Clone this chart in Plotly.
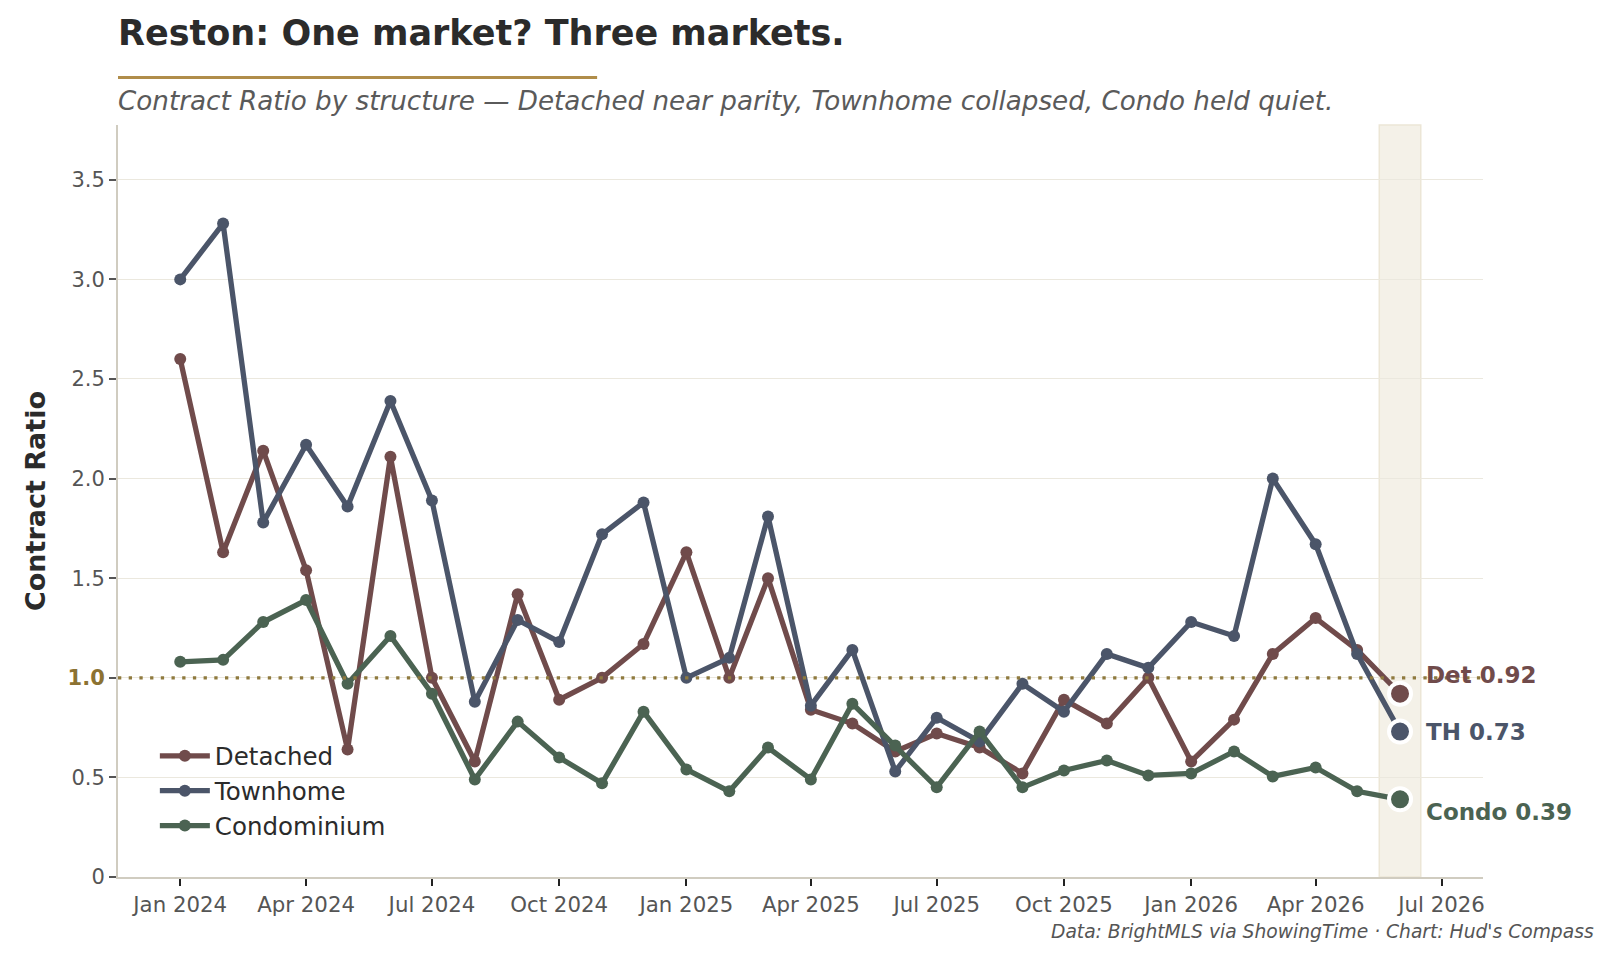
import plotly.graph_objects as go

months = ["2024-01-01","2024-02-01","2024-03-01","2024-04-01","2024-05-01","2024-06-01",
          "2024-07-01","2024-08-01","2024-09-01","2024-10-01","2024-11-01","2024-12-01",
          "2025-01-01","2025-02-01","2025-03-01","2025-04-01","2025-05-01","2025-06-01",
          "2025-07-01","2025-08-01","2025-09-01","2025-10-01","2025-11-01","2025-12-01",
          "2026-01-01","2026-02-01","2026-03-01","2026-04-01","2026-05-01","2026-06-01"]

detached = [2.60,1.63,2.14,1.54,0.64,2.11,1.00,0.58,1.42,0.89,1.00,1.17,
            1.63,1.00,1.50,0.84,0.77,0.63,0.72,0.65,0.52,0.89,0.77,1.00,
            0.58,0.79,1.12,1.30,1.14,0.92]
townhome = [3.00,3.28,1.78,2.17,1.86,2.39,1.89,0.88,1.29,1.18,1.72,1.88,
            1.00,1.10,1.81,0.86,1.14,0.53,0.80,0.68,0.97,0.83,1.12,1.05,
            1.28,1.21,2.00,1.67,1.12,0.73]
condo = [1.08,1.09,1.28,1.39,0.97,1.21,0.92,0.49,0.78,0.60,0.47,0.83,
         0.54,0.43,0.65,0.49,0.87,0.66,0.45,0.73,0.45,0.535,0.585,0.51,
         0.52,0.63,0.505,0.55,0.43,0.39]

series_names = ["Detached", "Townhome", "Condominium"]
short_names = ["Det", "TH", "Condo"]
colors = ["#704b4b", "#4b5569", "#4b6352"]
label_shift = [19, 0, -13]

xtick_vals = ["2024-01-01","2024-04-01","2024-07-01","2024-10-01","2025-01-01",
              "2025-04-01","2025-07-01","2025-10-01","2026-01-01","2026-04-01","2026-07-01"]
xtick_text = ["Jan 2024","Apr 2024","Jul 2024","Oct 2024","Jan 2025","Apr 2025",
              "Jul 2025","Oct 2025","Jan 2026","Apr 2026","Jul 2026"]
ytick_vals = [0, 0.5, 1.0, 1.5, 2.0, 2.5, 3.0, 3.5]
ytick_text = ["0", "0.5", "<b><span style='color:#8c7232'>1.0</span></b>", "1.5", "2.0", "2.5", "3.0", "3.5"]

FONT = "DejaVu Sans"
fig = go.Figure()

# highlight band for latest month
fig.add_shape(type="rect", xref="x", yref="paper", x0="2026-05-17", x1="2026-06-16",
              y0=0, y1=1, fillcolor="#f4f1e8", line=dict(color="#ece6d6", width=1.5), layer="below")
# parity line
fig.add_shape(type="line", xref="paper", yref="y", x0=0, x1=1, y0=1.0, y1=1.0,
              line=dict(color="#8f7a3e", width=3.2, dash="3.3px,7.4px"))

for name, vals, col in zip(series_names, [detached, townhome, condo], colors):
    fig.add_trace(go.Scatter(x=months, y=vals, mode="lines+markers", name=name,
                             line=dict(color=col, width=5.3),
                             marker=dict(color=col, size=12)))

for sname, vals, col, sh in zip(short_names, [detached, townhome, condo], colors, label_shift):
    fig.add_trace(go.Scatter(x=[months[-1]], y=[vals[-1]], mode="markers", showlegend=False,
                             marker=dict(color=col, size=22, line=dict(color="white", width=4)),
                             hoverinfo="skip"))
    fig.add_annotation(x=months[-1], y=vals[-1], text=f"<b>{sname} {vals[-1]:.2f}</b>",
                       showarrow=False, xanchor="left", yanchor="middle", xshift=24, yshift=sh,
                       font=dict(family=FONT, size=23, color=col))

fig.add_annotation(xref="paper", yref="paper", x=1.0, y=0, xanchor="right", yanchor="top",
                   text="<i>Data: BrightMLS via ShowingTime · Chart: Hud's Compass</i>",
                   showarrow=False, xshift=113, yshift=-42,
                   font=dict(family=FONT, size=18.7, color="#555555"))

fig.add_annotation(xref="paper", yref="paper", x=0, y=1, xanchor="left", yanchor="middle",
                   text="<b>Reston: One market? Three markets.</b>", showarrow=False,
                   xshift=-2, yshift=92, font=dict(family=FONT, size=35, color="#2b2b2b"))
fig.add_annotation(xref="paper", yref="paper", x=0, y=1, xanchor="left", yanchor="middle",
                   text="<i>Contract Ratio by structure — Detached near parity, Townhome collapsed, Condo held quiet.</i>",
                   showarrow=False, xshift=-2, yshift=24, font=dict(family=FONT, size=26.2, color="#5a5a5a"))
fig.add_shape(type="line", xref="paper", yref="paper", x0=0, x1=0.351, y0=1.063, y1=1.063,
              line=dict(color="#b08d4a", width=3))

fig.update_layout(
    width=1613, height=957,
    margin=dict(l=118, r=130, t=125, b=80),
    paper_bgcolor="white", plot_bgcolor="white",
    font=dict(family=FONT, color="#555555"),
    showlegend=True,
    legend=dict(x=0.027, y=0.038, xanchor="left", yanchor="bottom", bgcolor="rgba(0,0,0,0)",
                font=dict(family=FONT, size=24.5, color="#2b2b2b"), itemwidth=50),
    xaxis=dict(range=["2023-11-17", "2026-07-31"], tickvals=xtick_vals, ticktext=xtick_text,
               showgrid=False, zeroline=False, showline=True, linecolor="#d0ccc0", linewidth=2,
               ticks="outside", ticklen=7, tickwidth=2, tickcolor="#222222",
               tickfont=dict(family=FONT, size=21.3, color="#555555")),
    yaxis=dict(range=[0, 3.775], tickvals=ytick_vals, ticktext=ytick_text,
               showgrid=True, gridcolor="#ebe8de", gridwidth=1, zeroline=False,
               showline=True, linecolor="#d0ccc0", linewidth=2,
               ticks="outside", ticklen=7, tickwidth=2, tickcolor="#555555",
               tickfont=dict(family=FONT, size=21, color="#555555"),
               title=dict(text="<b>Contract Ratio</b>", font=dict(family=FONT, size=27, color="#2b2b2b"),
                          standoff=14)),
)

fig.write_html("out.html")
